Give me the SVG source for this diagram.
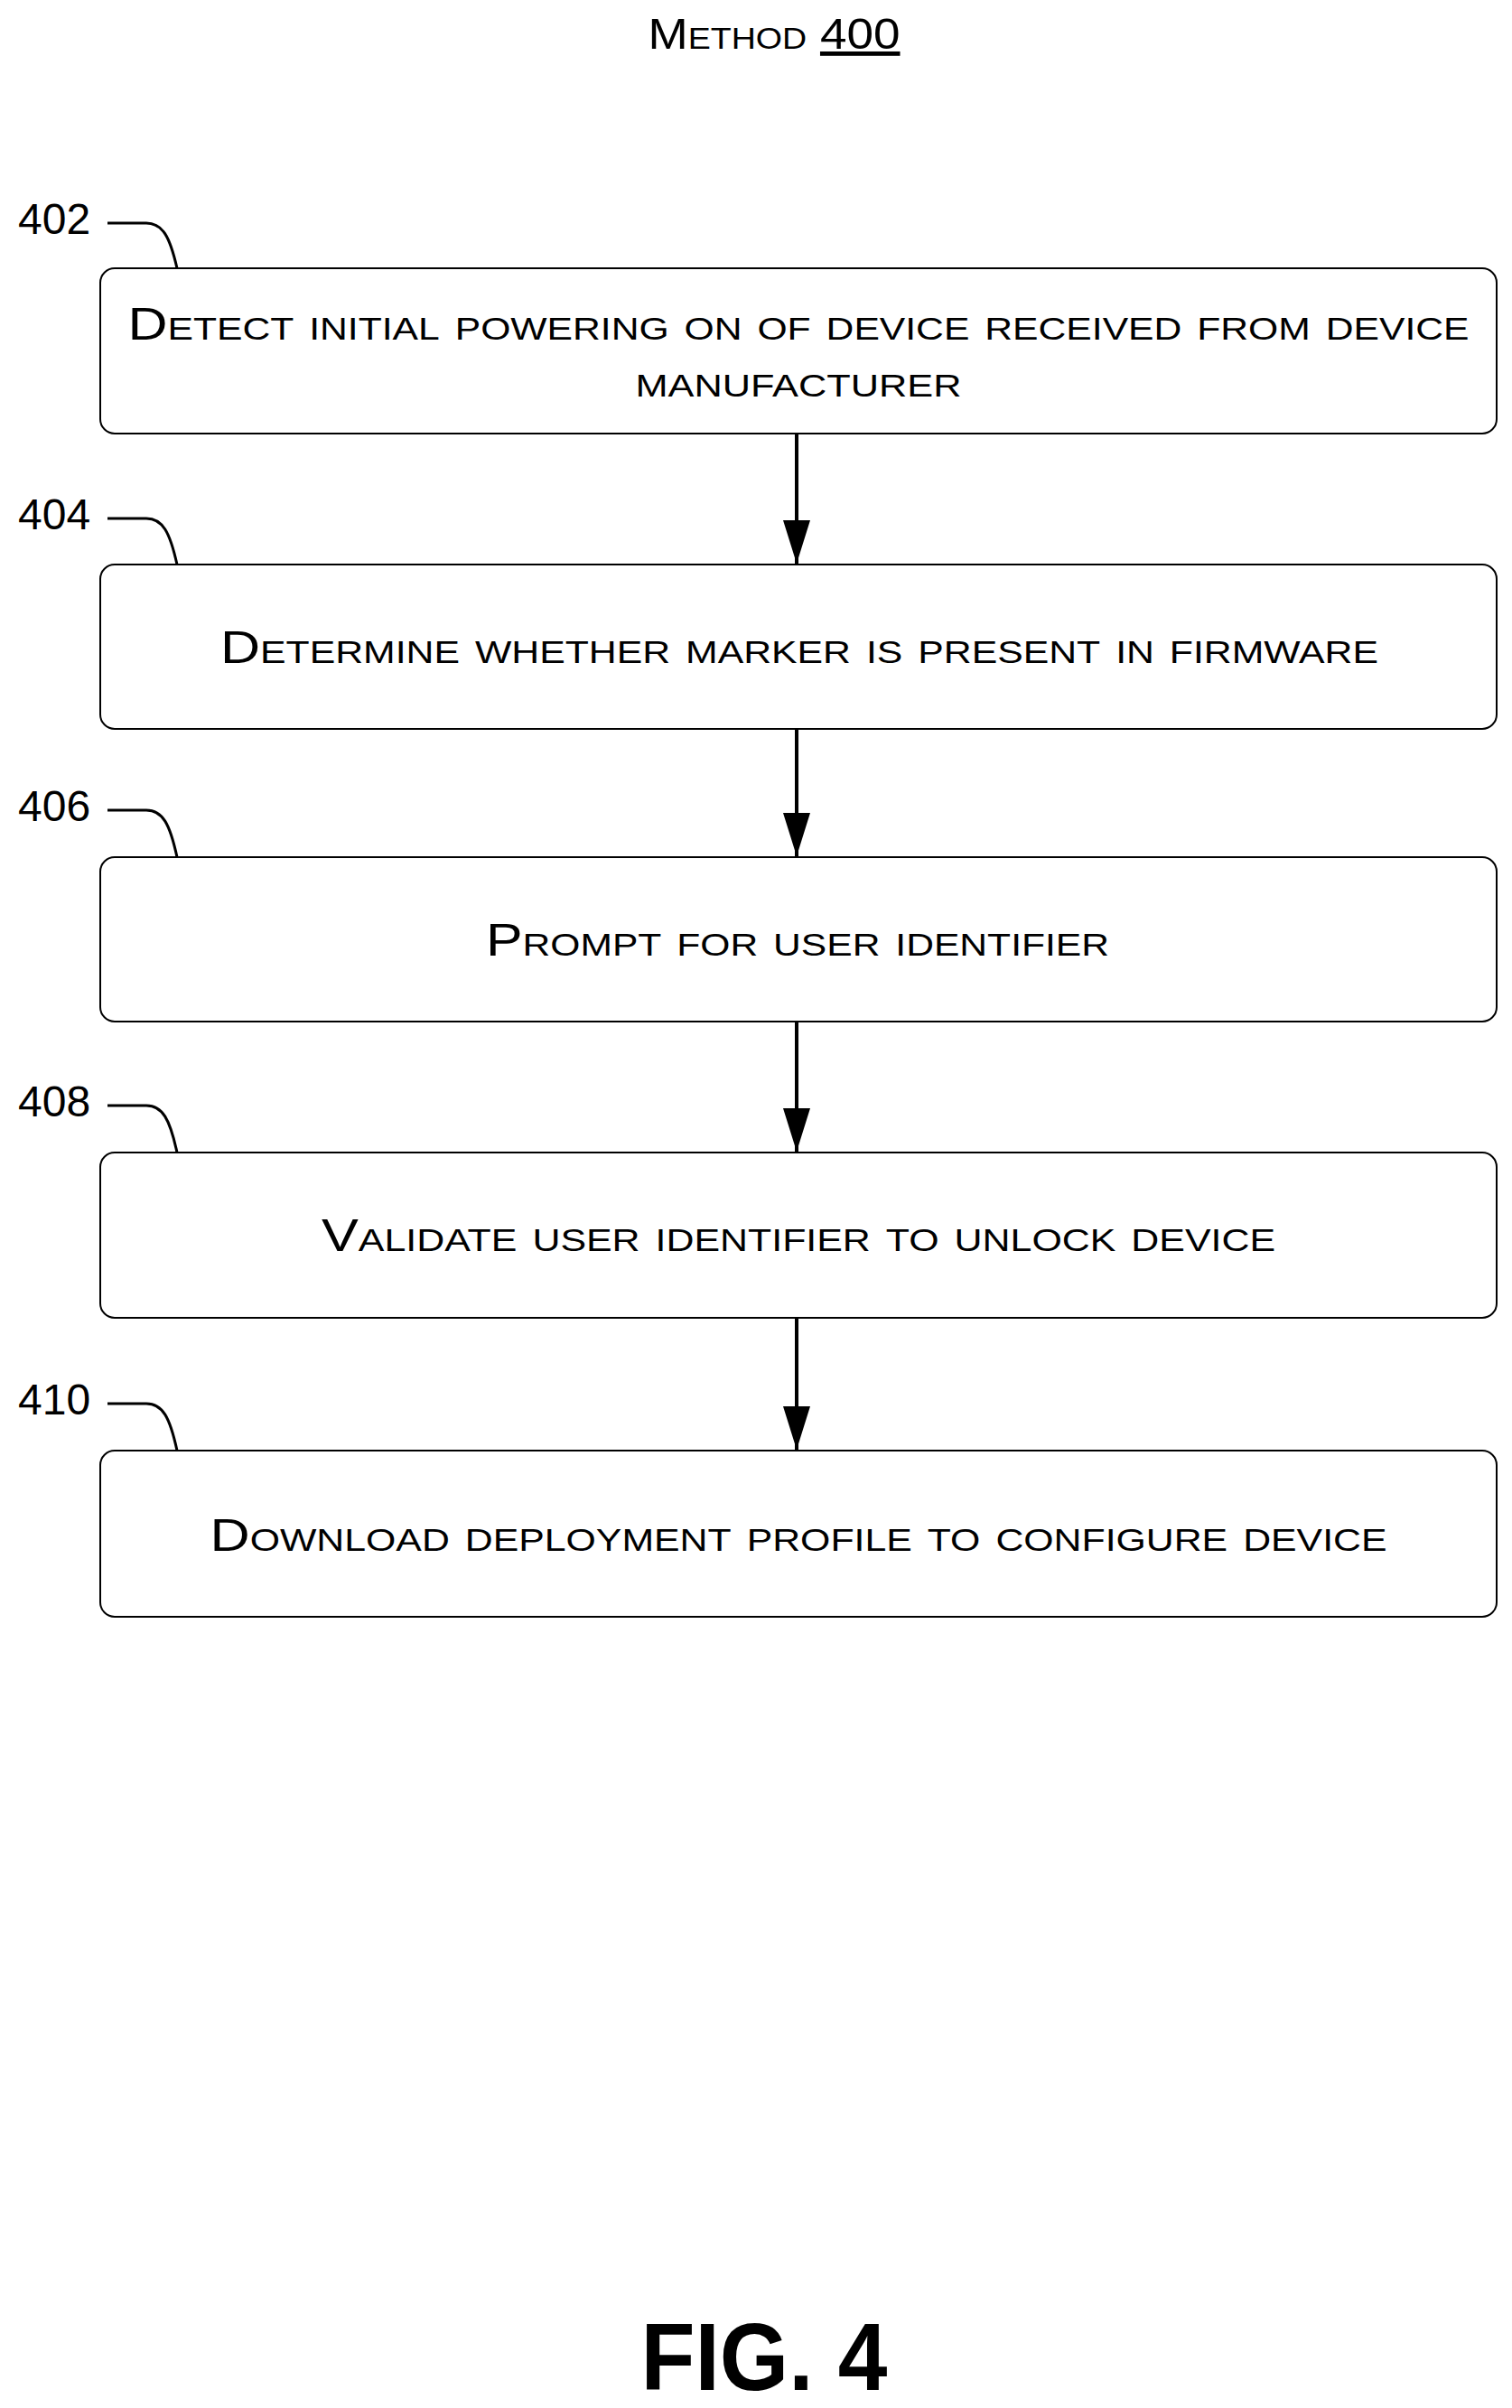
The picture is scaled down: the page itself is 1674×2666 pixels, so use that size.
<svg xmlns="http://www.w3.org/2000/svg" width="1674" height="2666" viewBox="0 0 1674 2666">
<style>
.box{fill:#fff;stroke:#000;stroke-width:2}
.t{font-family:"Liberation Sans",Arial,sans-serif;font-size:50px;font-variant:small-caps;text-anchor:middle}
.lab{font-family:"Liberation Sans",Arial,sans-serif;font-size:48px}
.ld{fill:none;stroke:#000;stroke-width:3}
.c{stroke:#000;stroke-width:4}
</style>
<defs>
<marker id="ah" viewBox="0 0 48 30" refX="48" refY="15" markerWidth="48" markerHeight="30" orient="auto" markerUnits="userSpaceOnUse"><path d="M0,0L48,15L0,30z"/></marker></defs>
<text x="857" y="54" class="t" textLength="279" lengthAdjust="spacingAndGlyphs" style="font-size:48px">Method <tspan text-decoration="underline">400</tspan></text>
<g id="connectors">
<line class="c" x1="882" y1="480" x2="882" y2="624" marker-end="url(#ah)"/>
<line class="c" x1="882" y1="807" x2="882" y2="948" marker-end="url(#ah)"/>
<line class="c" x1="882" y1="1131" x2="882" y2="1275" marker-end="url(#ah)"/>
<line class="c" x1="882" y1="1459" x2="882" y2="1605" marker-end="url(#ah)"/>
</g>
<g id="n402"><rect class="box" x="111" y="297" width="1546" height="183" rx="16"/>
<text class="lab" x="20" y="259">402</text><path class="ld" d="M119,247H162C180,247 188,262 196,297"/>
<text class="t" x="884" y="376" textLength="1485" lengthAdjust="spacingAndGlyphs">Detect initial powering on of device received from device</text>
<text class="t" x="884" y="439" textLength="361" lengthAdjust="spacingAndGlyphs">manufacturer</text></g>
<g id="n404"><rect class="box" x="111" y="625" width="1546" height="182" rx="16"/>
<text class="lab" x="20" y="586">404</text><path class="ld" d="M119,574H162C180,574 188,589 196,625"/>
<text class="t" x="885" y="734" textLength="1282" lengthAdjust="spacingAndGlyphs">Determine whether marker is present in firmware</text></g>
<g id="n406"><rect class="box" x="111" y="949" width="1546" height="182" rx="16"/>
<text class="lab" x="20" y="909">406</text><path class="ld" d="M119,897H162C180,897 188,912 196,949"/>
<text class="t" x="883" y="1058" textLength="690" lengthAdjust="spacingAndGlyphs">Prompt for user identifier</text></g>
<g id="n408"><rect class="box" x="111" y="1276" width="1546" height="183" rx="16"/>
<text class="lab" x="20" y="1236">408</text><path class="ld" d="M119,1224H162C180,1224 188,1239 196,1276"/>
<text class="t" x="884" y="1385" textLength="1056" lengthAdjust="spacingAndGlyphs">Validate user identifier to unlock device</text></g>
<g id="n410"><rect class="box" x="111" y="1606" width="1546" height="184" rx="16"/>
<text class="lab" x="20" y="1566">410</text><path class="ld" d="M119,1554H162C180,1554 188,1569 196,1606"/>
<text class="t" x="884" y="1717" textLength="1303" lengthAdjust="spacingAndGlyphs">Download deployment profile to configure device</text></g>
<text x="846" y="2646" font-family="Liberation Sans,Arial,sans-serif" font-weight="bold" font-size="106" text-anchor="middle" textLength="273" lengthAdjust="spacingAndGlyphs">FIG. 4</text>
</svg>
